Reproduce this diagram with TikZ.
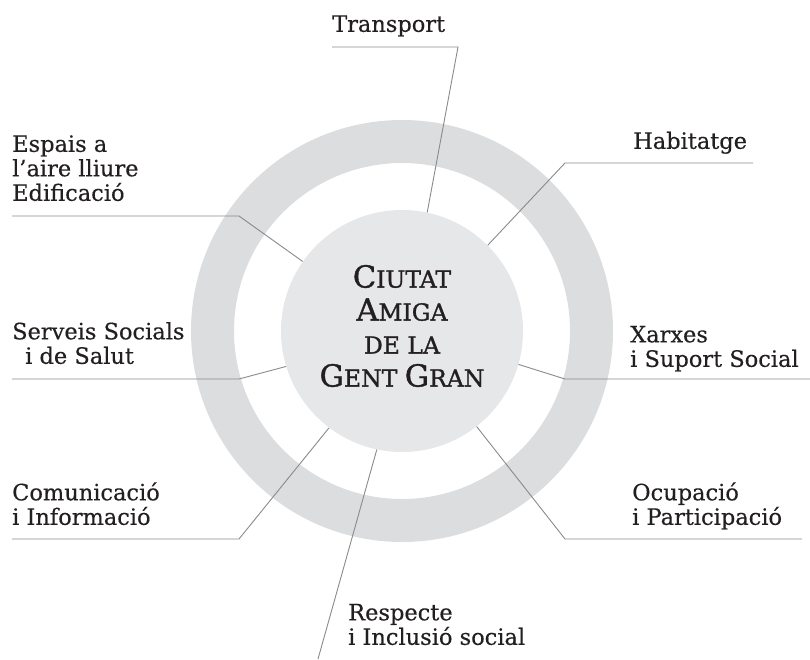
\documentclass[tikz,border=0pt]{standalone}
\usepackage{fontspec}
\setmainfont{DejaVu Serif}[FakeBold=0.4]
\newfontfamily\ttlfont{DejaVu Serif}[FakeBold=1.2]
\definecolor{ringc}{HTML}{DCDDDF}
\definecolor{corec}{HTML}{E6E7E8}
\definecolor{linec}{HTML}{8A8A8A}
\definecolor{txt}{HTML}{231F20}
\newcommand\ttlcap[1]{{\fontsize{30.5}{33}\selectfont #1}}
\begin{document}
\begin{tikzpicture}[x=1pt,y=-1pt,
  lbl/.style={font=\fontsize{22.5}{24.5}\selectfont, text=txt, inner sep=0pt, align=left, text depth=0pt, anchor=south west},
  ttl/.style={font=\ttlfont\fontsize{23.5}{33}\selectfont, text=txt, inner sep=0pt, align=center},
  conn/.style={draw=linec, line width=0.9pt}]
\useasboundingbox (0,0) rectangle (810,659);
\fill[ringc, even odd rule] (402,331) circle (211pt) (402,331) circle (168pt);
\node[circle, fill=corec, minimum size=242pt, inner sep=0pt] (core) at (402,331) {};
\node[ttl] (title) at (402,326) {\ttlcap{C}IUTAT\\\ttlcap{A}MIGA\\DE LA\\\ttlcap{G}ENT \ttlcap{G}RAN};

% Transport
\node[lbl] (transport) at (332,32) {Transport};
\coordinate (tA) at (332,47); \coordinate (tB) at (458,47);
\draw[conn] (tA) -- (tB) -- (core.78.5);

% Espais
\node[lbl] (espais) at (12,201) {Espais a\\l’aire lliure\\Edificació};
\coordinate (eA) at (12,216); \coordinate (eB) at (239,216);
\draw[conn] (eA) -- (eB) -- (core.145);

% Habitatge
\node[lbl] (habitatge) at (633,149) {Habitatge};
\coordinate (hA) at (753,163); \coordinate (hB) at (565,163);
\draw[conn] (hA) -- (hB) -- (core.45);

% Serveis
\node[lbl] (serveis) at (12,364) {Serveis Socials\\\hspace*{13pt}i de Salut};
\coordinate (sA) at (12,379); \coordinate (sB) at (239,379);
\draw[conn] (sA) -- (sB) -- (core.197);

% Xarxes
\node[lbl] (xarxes) at (630,367) {Xarxes\\i Suport Social};
\coordinate (xA) at (810,379); \coordinate (xB) at (565,379);
\draw[conn] (xA) -- (xB) -- (core.344);

% Comunicacio
\node[lbl] (comunicacio) at (12,525) {Comunicació\\i Informació};
\coordinate (cA) at (12,539); \coordinate (cB) at (239,539);
\draw[conn] (cA) -- (cB) -- (core.233);

% Ocupacio
\node[lbl] (ocupacio) at (632,525) {Ocupació\\i Participació};
\coordinate (oA) at (802,539); \coordinate (oB) at (565,539);
\draw[conn] (oA) -- (oB) -- (core.308);

% Respecte
\node[lbl] (respecte) at (348,645) {Respecte\\i Inclusió social};
\coordinate (rA) at (318,659);
\draw[conn] (core.258) -- (rA);
\end{tikzpicture}
\end{document}
